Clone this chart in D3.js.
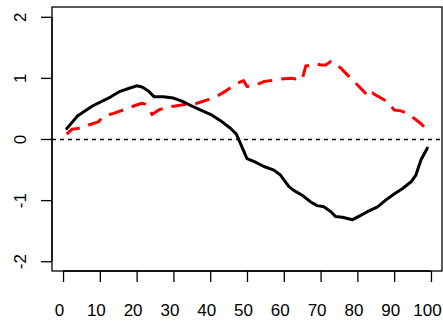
<!DOCTYPE html>
<html>
<head>
<meta charset="utf-8">
<script src="https://cdn.jsdelivr.net/npm/d3@7"></script>
<style>
  html, body { margin: 0; padding: 0; background: #fff; }
  svg { display: block; }
  text { font-family: "Liberation Sans", Arial, sans-serif; }
</style>
</head>
<body>
<svg id="chart" width="443" height="322"></svg>
<script>
// Series 1 (solid black)
const solidX = [1, 4, 8, 13, 15.5, 18, 20, 21.5, 23.3, 24.8, 27.3, 30, 32.3, 35, 37.3, 40.5, 42.8, 45.5, 47.1, 48.2, 50, 52, 54.6, 57.3, 59.1, 61.4, 62.7, 65, 67.3, 69.1, 70.9, 72.8, 74.1, 75.9, 78.7, 80.9, 82.7, 85.5, 87.7, 90, 92.3, 94.6, 95.9, 97.3, 99];
const solidY = [0.17, 0.38, 0.54, 0.69, 0.78, 0.83, 0.87, 0.85, 0.78, 0.69, 0.69, 0.67, 0.62, 0.54, 0.475, 0.39, 0.30, 0.175, 0.08, -0.07, -0.32, -0.37, -0.45, -0.51, -0.59, -0.78, -0.84, -0.92, -1.03, -1.09, -1.11, -1.19, -1.27, -1.28, -1.32, -1.25, -1.19, -1.11, -1.0, -0.90, -0.81, -0.70, -0.59, -0.34, -0.15];

// Series 2 (red dashed)
const dashX = [1, 2.4, 4.6, 6.9, 9.6, 11, 13.7, 16.4, 19.2, 21.4, 22.3, 23.3, 24.2, 26, 28.3, 30.5, 33.7, 36.4, 39.2, 41.9, 44.6, 47.3, 49.1, 50, 51.9, 54.6, 56.4, 59.1, 61.9, 63.7, 65, 66, 68.2, 69.1, 70, 71.4, 72.8, 73.7, 75.5, 77.3, 79.1, 81.4, 83.2, 84.1, 86.4, 88.2, 90, 91.8, 93.2, 95.4, 97.3, 99];
const dashY = [0.08, 0.16, 0.175, 0.23, 0.28, 0.37, 0.42, 0.475, 0.54, 0.585, 0.57, 0.50, 0.40, 0.475, 0.52, 0.54, 0.57, 0.585, 0.64, 0.70, 0.80, 0.91, 0.955, 0.86, 0.87, 0.94, 0.955, 0.98, 0.995, 0.98, 0.97, 1.20, 1.20, 1.23, 1.21, 1.21, 1.27, 1.25, 1.16, 1.05, 0.94, 0.80, 0.69, 0.75, 0.67, 0.61, 0.475, 0.46, 0.43, 0.34, 0.25, 0.14];

const xTicks = [0, 10, 20, 30, 40, 50, 60, 70, 80, 90, 100];
const yTicks = [-2, -1, 0, 1, 2];

const plot = { left: 52, right: 442, top: 7, bottom: 271 };

const svg = d3.select("#chart");

const x = d3.scaleLinear().domain([-3, 103]).range([plot.left, plot.right]);
const y = d3.scaleLinear().domain([-2.16, 2.16]).range([plot.bottom, plot.top]);

// reference line at zero
svg.append("line")
  .attr("x1", plot.left).attr("x2", plot.right)
  .attr("y1", y(0) + 0.5).attr("y2", y(0) + 0.5)
  .attr("stroke", "#000").attr("stroke-width", 1.3)
  .attr("stroke-dasharray", "4,4");

const line = d3.line().x(d => x(d[0])).y(d => y(d[1])).curve(d3.curveLinear);

svg.append("path")
  .datum(dashX.map((v, i) => [v, dashY[i]]))
  .attr("d", line)
  .attr("fill", "none")
  .attr("stroke", "#ff0000")
  .attr("stroke-width", 3)
  .attr("stroke-dasharray", "15,9")
  .attr("stroke-linejoin", "round");

svg.append("path")
  .datum(solidX.map((v, i) => [v, solidY[i]]))
  .attr("d", line)
  .attr("fill", "none")
  .attr("stroke", "#000")
  .attr("stroke-width", 3)
  .attr("stroke-linejoin", "round")
  .attr("stroke-linecap", "round");

// plot frame
svg.append("rect")
  .attr("x", plot.left).attr("y", plot.top)
  .attr("width", plot.right - plot.left).attr("height", plot.bottom - plot.top)
  .attr("fill", "none").attr("stroke", "#000").attr("stroke-width", 1.3);

const plain = d => String(d);

// bottom axis
const xAxis = svg.append("g")
  .attr("transform", `translate(0,${plot.bottom})`)
  .call(d3.axisBottom(x).tickValues(xTicks).tickSize(11).tickPadding(22).tickSizeOuter(0).tickFormat(plain));
xAxis.select(".domain")
  .attr("d", `M${x(0)},0H${x(100)}`)
  .attr("stroke-width", 1.3);
xAxis.selectAll(".tick line").attr("stroke-width", 1.3);
xAxis.selectAll(".tick text")
  .attr("font-size", 17)
  .attr("fill", "#000")
  .attr("x", -4)
  .attr("font-family", "Liberation Sans, Arial, sans-serif");

// left axis with rotated labels
const yAxis = svg.append("g")
  .attr("transform", `translate(${plot.left},0)`)
  .call(d3.axisLeft(y).tickValues(yTicks).tickSize(11).tickSizeOuter(0).tickFormat(plain));
yAxis.select(".domain")
  .attr("d", `M0,${y(-2)}V${y(2)}`)
  .attr("stroke-width", 1.3);
yAxis.selectAll(".tick line").attr("stroke-width", 1.3);
yAxis.selectAll(".tick text")
  .attr("font-size", 17)
  .attr("fill", "#000")
  .attr("font-family", "Liberation Sans, Arial, sans-serif")
  .attr("text-anchor", "middle")
  .attr("x", null).attr("dy", null)
  .attr("transform", "translate(-32,0) rotate(-90)")
  .attr("dominant-baseline", "central");
</script>
</body>
</html>
